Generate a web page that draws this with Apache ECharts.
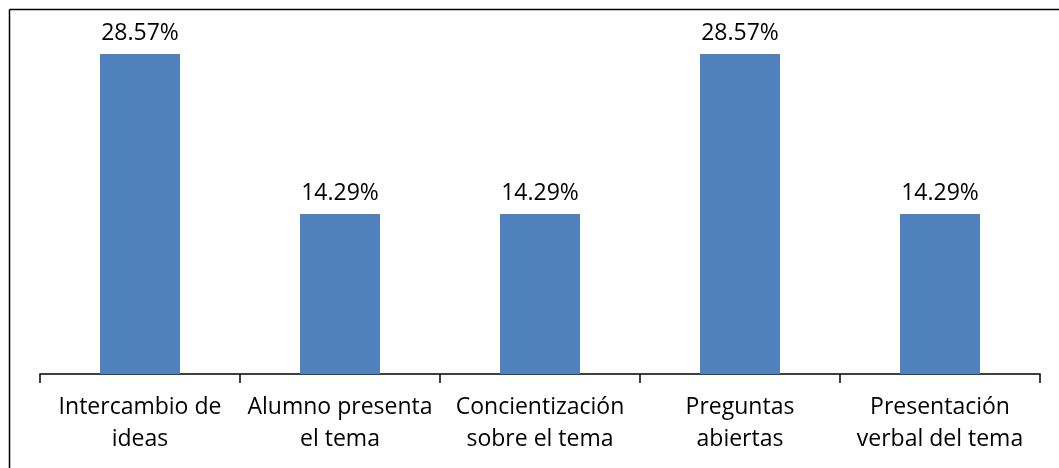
<!DOCTYPE html>
<html>
<head>
<meta charset="utf-8">
<script src="https://cdn.jsdelivr.net/npm/echarts@6/dist/echarts.min.js"></script>
<style>html,body{margin:0;padding:0;background:#fff;}#c{width:1059px;height:468px;}</style>
</head>
<body>
<div id="c"></div>
<script>
const categories = ["Intercambio de\nideas", "Alumno presenta\nel tema", "Concientización\nsobre el tema", "Preguntas\nabiertas", "Presentación\nverbal del tema"];
const values = [28.57, 14.29, 14.29, 28.57, 14.29];

const chart = echarts.init(document.getElementById('c'), null, {renderer: 'canvas'});
const FONT = 'Open Sans';
chart.setOption({
  animation: false,
  backgroundColor: '#fff',
  graphic: [
    {type: 'line', shape: {x1: 9.5, y1: 9.5, x2: 1070, y2: 9.5}, style: {stroke: '#000', lineWidth: 1.5}},
    {type: 'line', shape: {x1: 9.5, y1: 9.5, x2: 9.5, y2: 480}, style: {stroke: '#000', lineWidth: 1.5}}
  ],
  grid: {left: 40, right: 19, top: 38, bottom: 94, containLabel: false},
  xAxis: {
    type: 'category',
    data: categories,
    axisLine: {lineStyle: {color: '#000', width: 1.5}},
    axisTick: {show: true, length: 9, lineStyle: {color: '#000', width: 1.5}},
    axisLabel: {color: '#000', fontFamily: FONT, fontSize: 23, lineHeight: 32, margin: 17, interval: 0}
  },
  yAxis: {
    type: 'value', min: 0, max: 30, show: false, splitLine: {show: false}
  },
  series: [{
    type: 'bar',
    data: values,
    barWidth: 80,
    itemStyle: {color: '#4F81BD'},
    label: {
      show: true, position: 'top', distance: 9, color: '#000', fontFamily: FONT, fontSize: 23,
      formatter: p => p.value.toFixed(2) + '%'
    }
  }]
});
</script>
</body>
</html>
